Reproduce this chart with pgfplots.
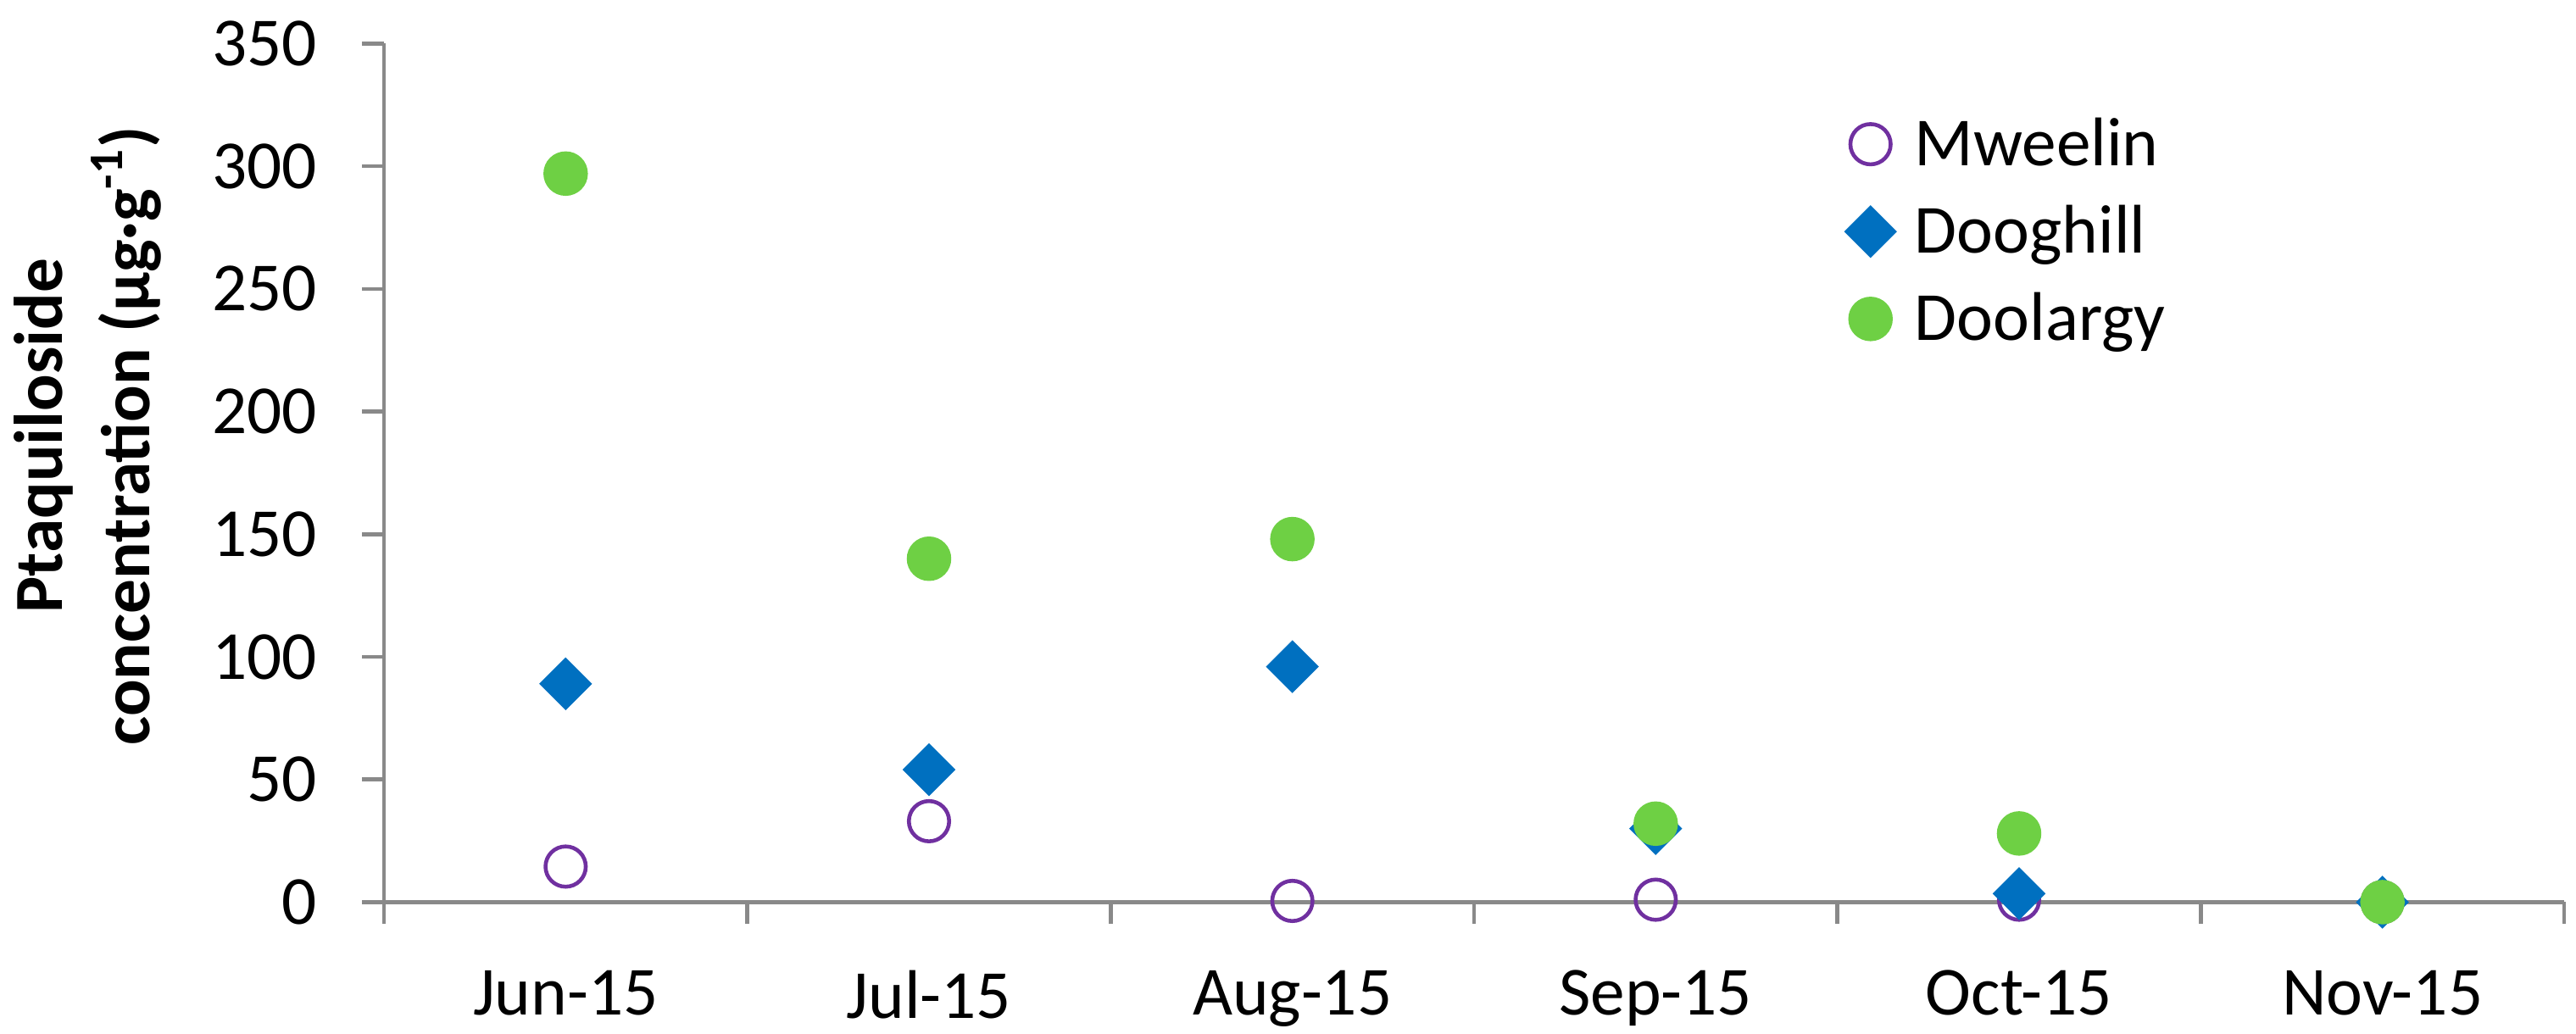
\documentclass[border=0pt]{standalone}
\usepackage{fontspec}
\setmainfont{Carlito}
\usepackage{pgfplots}
\pgfplotsset{compat=1.18}
\definecolor{mwe}{RGB}{112,48,160}
\definecolor{doo}{RGB}{0,112,192}
\definecolor{dla}{RGB}{110,208,68}
\definecolor{axg}{RGB}{137,137,137}
\begin{document}
\begin{tikzpicture}
\begin{axis}[
  at={(0,0)}, anchor=south west,
  scale only axis, width=617.28pt, height=243.12pt,
  xmin=-0.5, xmax=5.5, ymin=0, ymax=350,
  clip=false,
  axis x line=bottom, axis y line=left,
  axis line style={-, draw=axg, line width=1.1pt},
  xtick={-0.5,0.5,1.5,2.5,3.5,4.5,5.5},
  xticklabels={Jun-15,Jul-15,Aug-15,Sep-15,Oct-15,Nov-15},
  x tick label as interval,
  ytick={0,50,...,350},
  tick align=outside,
  major tick length=6.2pt,
  tick style={draw=axg, line width=1.1pt},
  /pgf/number format/assume math mode=true,
  tick label style={font=\fontsize{19.5}{23.4}\selectfont},
  yticklabel style={xshift=-9.3pt},
  xticklabel style={yshift=-9.6pt},
  ylabel={Ptaquiloside\\concentration (µg·g\textsuperscript{-1})},
  ylabel style={at={(axis description cs:-0.136,0.543)}, anchor=center, align=center,
    font=\bfseries\fontsize{19.5}{24.7}\selectfont},
  legend style={draw=none, fill=none, at={(axis description cs:0.665,0.931)}, anchor=north west,
    font=\fontsize{19.5}{23.4}\selectfont, row sep=5.7pt, column sep=3.3pt},
  legend cell align=left,
]
\addplot[only marks, mark=o, mark size=5.7pt, mwe, line width=1.1pt]
  coordinates {(0,14.5)(1,33)(2,0.5)(3,1)(4,1)(5,0)};
\addlegendentry{Mweelin}
\addplot[only marks, mark=square*, mark size=5.1pt, doo, mark options={rotate=45, draw=none, fill=doo}]
  coordinates {(0,89)(1,54)(2,96)(3,30)(4,3.5)(5,0)};
\addlegendentry{Dooghill}
\addplot[only marks, mark=*, mark size=6.1pt, dla, mark options={draw=none, fill=dla}]
  coordinates {(0,297)(1,140)(2,148)(3,32)(4,28)(5,0)};
\addlegendentry{Doolargy}
\end{axis}
\pgfresetboundingbox
\useasboundingbox (-108.72pt,-37.32pt) rectangle (620.64pt,255.46pt);
\end{tikzpicture}
\end{document}
